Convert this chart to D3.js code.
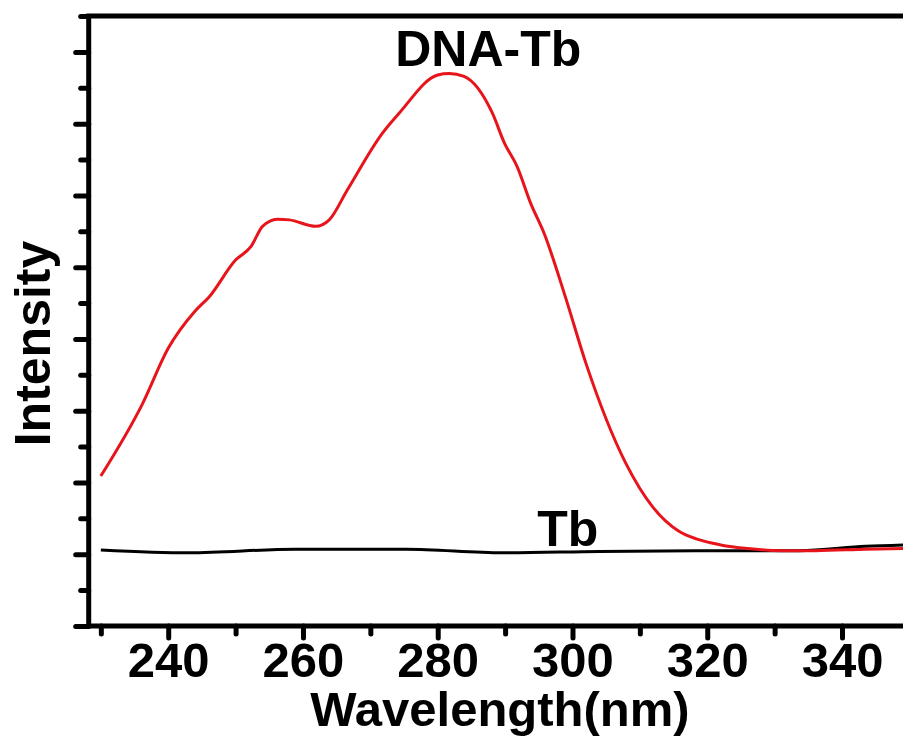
<!DOCTYPE html>
<html>
<head>
<meta charset="utf-8">
<script src="https://cdn.jsdelivr.net/npm/d3@7"></script>
<style>
  body { margin: 0; background: #fff; }
  text { font-family: "Liberation Sans", Arial, sans-serif; font-weight: bold; }
</style>
</head>
<body>
<script>
// wavelength (nm) and intensity (arbitrary units)
var dna_tb_wl = [230.0, 236.2, 240.0, 243.9, 246.1, 250.0, 252.3, 254.0, 256.2, 258.0,
                 261.9, 263.9, 266.6, 271.8, 274.3, 280.0, 281.7, 283.9, 288.1, 289.9,
                 291.8, 293.8, 295.8, 299.0, 302.0, 307.9, 311.9, 315.8, 318.5, 322.0,
                 326.0, 331.0, 336.1, 343.5, 349.2];
var dna_tb_int = [2.09, 3.10, 3.87, 4.38, 4.59, 5.10, 5.29, 5.57, 5.67, 5.66,
                  5.57, 5.66, 6.08, 6.87, 7.15, 7.68, 7.70, 7.66, 7.15, 6.73,
                  6.40, 5.89, 5.47, 4.57, 3.66, 2.27, 1.66, 1.32, 1.21, 1.13,
                  1.08, 1.05, 1.05, 1.07, 1.08];

var tb_wl = [230.0, 243.1, 258.9, 275.3, 289.6, 304.0, 323.7, 333.6, 343.5, 349.2];
var tb_int = [1.06, 1.02, 1.07, 1.07, 1.02, 1.04, 1.05, 1.05, 1.11, 1.13];

var x_ticks = [240, 260, 280, 300, 320, 340];
var x_minor = [230, 250, 270, 290, 310, 330];
var y_ticks = [0, 1, 2, 3, 4, 5, 6, 7, 8];
var y_minor = [0.5, 1.5, 2.5, 3.5, 4.5, 5.5, 6.5, 7.5, 8.5];

var labels = [
    { text: "DNA-Tb", wl: 287.5, val: 7.8 },
    { text: "Tb", wl: 299.3, val: 1.11 }
];

var width = 903, height = 738;

var svg = d3.select('body')
    .append('svg')
    .attr('width', width)
    .attr('height', height);

var x = d3.scaleLinear()
    .domain([228.2, 349.2])
    .range([88.7, 904]);

var y = d3.scaleLinear()
    .domain([0, 8.5])
    .range([626, 16.1]);

var line = d3.line()
    .x(function(d) { return x(d[0]); })
    .y(function(d) { return y(d[1]); })
    .curve(d3.curveMonotoneX);

var red_data = d3.zip(dna_tb_wl, dna_tb_int);
var black_data = d3.zip(tb_wl, tb_int);

// curves
svg.append('path')
    .datum(black_data)
    .attr('d', line)
    .attr('fill', 'none')
    .attr('stroke', '#000')
    .attr('stroke-width', 3);

svg.append('path')
    .datum(red_data)
    .attr('d', line)
    .attr('fill', 'none')
    .attr('stroke', '#e8141b')
    .attr('stroke-width', 3)
    .attr('stroke-linejoin', 'round');

// axes
function style_axis(g) {
    g.select('.domain').remove();
    g.selectAll('line')
        .attr('stroke', '#000')
        .attr('stroke-width', 5)
        .attr('stroke-linecap', 'round');
}

svg.append('g')
    .attr('transform', 'translate(0, 626)')
    .call(d3.axisBottom(x).tickValues(x_minor).tickSize(8).tickFormat(''))
    .call(style_axis);

var xaxis = svg.append('g')
    .attr('transform', 'translate(0, 626)')
    .call(d3.axisBottom(x).tickValues(x_ticks).tickSize(12).tickPadding(10))
    .call(style_axis);

xaxis.selectAll('text')
    .attr('dy', null)
    .attr('y', 51)
    .style('font-size', '49px')
    .style('font-family', '"Liberation Sans", Arial, sans-serif')
    .style('font-weight', 'bold')
    .attr('fill', '#000');

svg.append('g')
    .attr('transform', 'translate(88.7, 0)')
    .call(d3.axisLeft(y).tickValues(y_minor).tickSize(8).tickFormat(''))
    .call(style_axis);

svg.append('g')
    .attr('transform', 'translate(88.7, 0)')
    .call(d3.axisLeft(y).tickValues(y_ticks).tickSize(13).tickFormat(''))
    .call(style_axis);

// frame: left, bottom, top
svg.append('path')
    .attr('d', `M${x(349.2) + 5},${y(8.5)} H88.7 V626 H${x(349.2) + 5}`)
    .attr('fill', 'none')
    .attr('stroke', '#000')
    .attr('stroke-width', 5);

// axis titles
svg.append('text')
    .attr('x', 500)
    .attr('y', 726)
    .attr('text-anchor', 'middle')
    .style('font-size', '49px')
    .text('Wavelength(nm)');

svg.append('text')
    .attr('transform', 'translate(50, 343.5) rotate(-90)')
    .attr('text-anchor', 'middle')
    .style('font-size', '50px')
    .text('Intensity');

// curve labels
svg.selectAll('text.curve-label').data(labels).enter()
    .append('text')
    .attr('class', 'curve-label')
    .attr('x', function(d) { return x(d.wl); })
    .attr('y', function(d) { return y(d.val); })
    .attr('text-anchor', 'middle')
    .style('font-size', '50px')
    .text(function(d) { return d.text; });
</script>
</body>
</html>
